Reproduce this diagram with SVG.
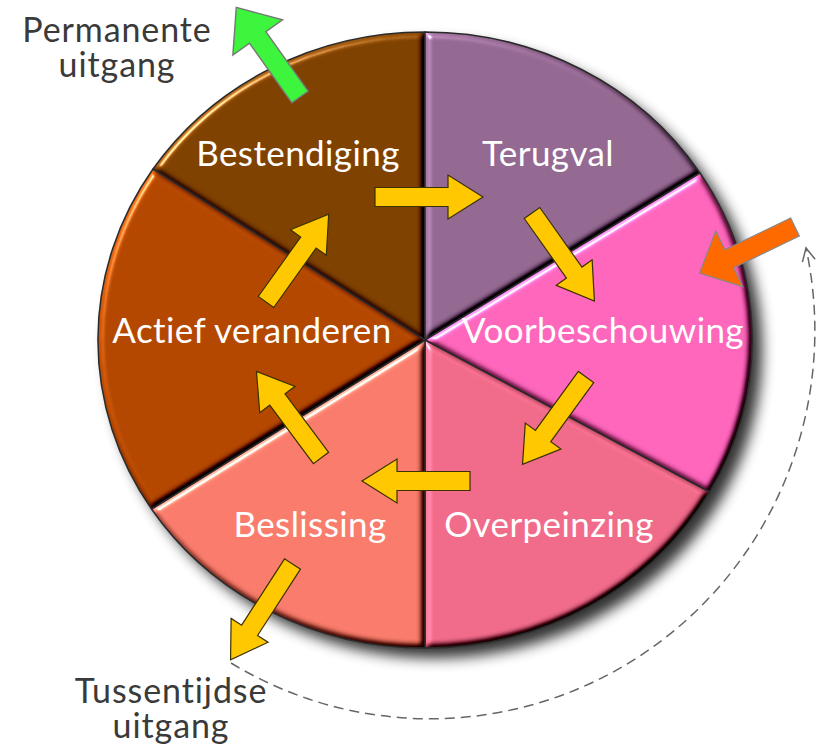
<svg xmlns="http://www.w3.org/2000/svg" width="818" height="751" viewBox="0 0 818 751">
<style>
.lbl{font-family:Lato,"Open Sans","Liberation Sans",sans-serif;font-size:35px;letter-spacing:0.4px;fill:#ffffff;text-anchor:middle}
.out{font-family:Lato,"Open Sans","Liberation Sans",sans-serif;font-size:34px;letter-spacing:0.9px;fill:#3a3a3a;text-anchor:middle}
.seg{filter:url(#bevel)}
.edge{fill:none;stroke:#2a2a2a;stroke-width:1.5;stroke-linejoin:round}
.ya{fill:#ffc800;stroke:#3a3000;stroke-width:1.2;stroke-linejoin:miter}
</style>
<defs>
<filter id="bevel" x="-5%" y="-5%" width="110%" height="110%" color-interpolation-filters="sRGB">
<feGaussianBlur in="SourceAlpha" stdDeviation="3.2" result="b"/>
<feDiffuseLighting in="b" surfaceScale="4" diffuseConstant="1" lighting-color="#ffffff" result="L">
<feDistantLight azimuth="225" elevation="55"/>
</feDiffuseLighting>
<feComposite in="SourceGraphic" in2="L" operator="arithmetic" k1="1.221" k2="0" k3="0.45" k4="-0.369" result="c"/>
<feSpecularLighting in="b" surfaceScale="4" specularConstant="0.9" specularExponent="60" lighting-color="#ffffff" result="s">
<feDistantLight azimuth="225" elevation="40"/>
</feSpecularLighting>
<feComposite in="s" in2="SourceAlpha" operator="in" result="s2"/>
<feComposite in="c" in2="s2" operator="arithmetic" k1="0" k2="1" k3="0.7" k4="0" result="d"/>
<feComposite in="d" in2="SourceAlpha" operator="in"/>
</filter>
<filter id="shadow" x="-10%" y="-10%" width="125%" height="125%">
<feGaussianBlur stdDeviation="7"/>
</filter>
<path id="arr" d="M0,-9.5 L73,-9.5 L73,-22 L108,0 L73,22 L73,9.5 L0,9.5 Z"/>
<marker id="open" markerUnits="userSpaceOnUse" markerWidth="20" markerHeight="20" viewBox="-14 -10 16 20" refX="0" refY="0" orient="auto">
<path d="M-13,-6.5 L0,0 L-13,6.5" fill="none" stroke="#666" stroke-width="1.5"/>
</marker>
</defs>
<rect width="818" height="751" fill="#ffffff"/>
<ellipse cx="435" cy="350" rx="327" ry="308" fill="#000" opacity="0.8" filter="url(#shadow)"/>

<g id="bestendiging">
<path class="seg" fill="#7f4100" d="M425,340 L153,169 A327,308 0 0 1 425,32 Z"/>
<path class="edge" d="M425,340 L153,169 A327,308 0 0 1 425,32 Z"/>
<text class="lbl" x="298" y="166">Bestendiging</text>
</g>
<g id="terugval">
<path class="seg" fill="#936891" d="M425,340 L425,32 A327,308 0 0 1 700,173 Z"/>
<path class="edge" d="M425,340 L425,32 A327,308 0 0 1 700,173 Z"/>
<text class="lbl" x="548" y="166">Terugval</text>
</g>
<g id="voorbeschouwing">
<path class="seg" fill="#ff66bb" d="M425,340 L700,173 A327,308 0 0 1 709.5,492 Z"/>
<path class="edge" d="M425,340 L700,173 A327,308 0 0 1 709.5,492 Z"/>
<text class="lbl" x="603" y="343">Voorbeschouwing</text>
</g>
<g id="overpeinzing">
<path class="seg" fill="#f06a8a" d="M425,340 L709.5,492 A327,308 0 0 1 425,648 Z"/>
<path class="edge" d="M425,340 L709.5,492 A327,308 0 0 1 425,648 Z"/>
<text class="lbl" x="549" y="537">Overpeinzing</text>
</g>
<g id="beslissing">
<path class="seg" fill="#f87b6b" d="M425,340 L425,648 A327,308 0 0 1 151.5,509 Z"/>
<path class="edge" d="M425,340 L425,648 A327,308 0 0 1 151.5,509 Z"/>
<text class="lbl" x="310" y="537">Beslissing</text>
</g>
<g id="actief-veranderen">
<path class="seg" fill="#b34700" d="M425,340 L151.5,509 A327,308 0 0 1 153,169 Z"/>
<path class="edge" d="M425,340 L151.5,509 A327,308 0 0 1 153,169 Z"/>
<text class="lbl" x="252" y="343">Actief veranderen</text>
</g>

<g id="permanente-uitgang">
<text class="out" x="117" y="42">Permanente</text>
<text class="out" x="117" y="77">uitgang</text>
</g>
<g id="tussentijdse-uitgang">
<text class="out" x="171" y="703">Tussentijdse</text>
<text class="out" x="171" y="738">uitgang</text>
</g>

<g id="connectors">
<path d="M231,663 A385,388 0 0 0 806,248" fill="none" stroke="#666" stroke-width="1.5" stroke-dasharray="10 6" marker-end="url(#open)"/>
<use href="#arr" class="ya" transform="translate(375,197) rotate(0)"/>
<use href="#arr" class="ya" transform="translate(532,213) rotate(54.7)"/>
<use href="#arr" class="ya" transform="translate(586,377) rotate(126)"/>
<use href="#arr" class="ya" transform="translate(470,481) rotate(180)"/>
<use href="#arr" class="ya" transform="translate(321,458) rotate(233.3)"/>
<use href="#arr" class="ya" transform="translate(266,302) rotate(-54.5)"/>
<path class="ya" transform="translate(292.5,564) rotate(122.9)" d="M0,-9.5 L79,-9.5 L79,-22 L114,0 L79,22 L79,9.5 L0,9.5 Z"/>
<path fill="#3cf53c" stroke="#777" stroke-width="1.4" transform="translate(300,97) rotate(-125.4)" d="M0,-10 L73,-10 L73,-30.5 L110,0 L73,30.5 L73,10 L0,10 Z"/>
<path fill="#ff6a00" stroke="#888" stroke-width="1.2" transform="translate(795,227) rotate(154.2)" d="M0,-10 L73,-10 L73,-31 L106,0 L73,31 L73,10 L0,10 Z"/>
</g>
</svg>
